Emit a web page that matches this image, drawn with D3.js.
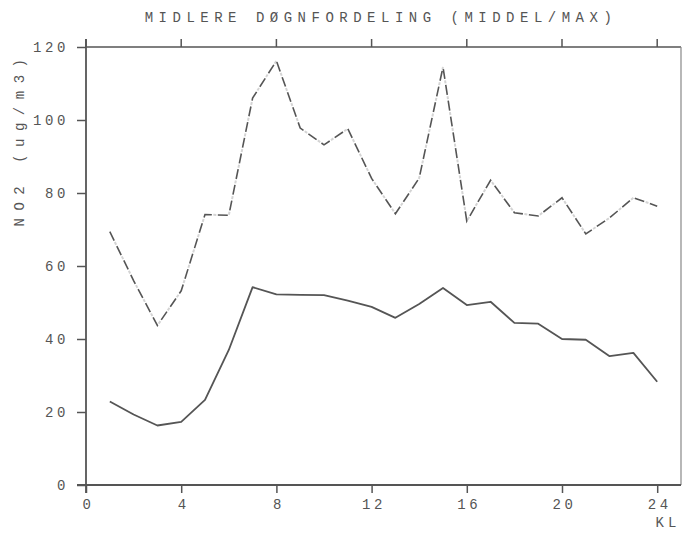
<!DOCTYPE html>
<html>
<head>
<meta charset="utf-8">
<script src="https://cdn.jsdelivr.net/npm/d3@7"></script>
<style>
  body { margin: 0; background: #fff; }
  svg { display: block; }
  text { font-family: "Liberation Mono", "DejaVu Sans Mono", monospace; fill: #555; }
</style>
</head>
<body>
<svg id="chart" width="686" height="533"></svg>
<script>
// Hour of day (KL) 1..24
const hours = [1,2,3,4,5,6,7,8,9,10,11,12,13,14,15,16,17,18,19,20,21,22,23,24];
// Mean NO2 per hour (ug/m3)
const middel = [22.9,19.3,16.3,17.3,23.3,37,54.2,52.2,52.1,52,50.5,48.8,45.8,49.6,54,49.3,50.2,44.4,44.2,40,39.8,35.3,36.2,28.3];
// Max NO2 per hour (ug/m3)
const maks = [69.4,56,43.7,53.2,74.1,73.9,106,116.2,97.8,93.2,97.6,84,74.3,84.1,114.5,72.3,83.5,74.6,73.7,78.7,68.8,73.2,78.7,76.4];
const xTicks = [0,4,8,12,16,20,24];
const yTicks = [0,20,40,60,80,100,120];

const svg = d3.select("#chart");
const x = d3.scaleLinear().domain([0, 25]).range([86, 681]);
const y = d3.scaleLinear().domain([0, 120]).range([485, 47]);
const ink = "#555";

// Frame: top and right edges
svg.append("line").attr("x1", x(0)).attr("x2", x(25)).attr("y1", y(120)).attr("y2", y(120))
  .attr("stroke", ink).attr("stroke-width", 1.5);
svg.append("line").attr("x1", x(25)).attr("x2", x(25)).attr("y1", y(120)).attr("y2", y(0))
  .attr("stroke", "#888").attr("stroke-width", 1.2);

// Top ticks pointing up
svg.selectAll(".ttick").data(xTicks).join("line")
  .attr("x1", d => x(d)).attr("x2", d => x(d))
  .attr("y1", y(120)).attr("y2", y(120) - 8)
  .attr("stroke", ink).attr("stroke-width", 1.5);

// Bottom axis
const xAxis = d3.axisBottom(x).tickValues(xTicks).tickSize(8).tickPadding(6).tickSizeOuter(0);
const gx = svg.append("g").attr("transform", `translate(0,${y(0)})`).call(xAxis);
gx.select(".domain").attr("d", `M${x(0) - 9},0H${x(25)}`).attr("stroke", ink).attr("stroke-width", 1.8);
gx.selectAll(".tick line").attr("stroke", ink).attr("stroke-width", 1.5);
gx.selectAll(".tick text").attr("font-size", 14).attr("letter-spacing", 3.6)
  .attr("font-family", "Liberation Mono, monospace").attr("fill", ink).attr("dx", 2);

// Left axis
const yAxis = d3.axisLeft(y).tickValues(yTicks).tickSize(9).tickPadding(8).tickSizeOuter(0);
const gy = svg.append("g").attr("transform", `translate(${x(0)},0)`).call(yAxis);
gy.select(".domain").attr("d", `M0,${y(0) + 8}V${y(120) - 8}`).attr("stroke", ink).attr("stroke-width", 1.8);
gy.selectAll(".tick line").attr("stroke", ink).attr("stroke-width", 1.5);
gy.selectAll(".tick text").attr("font-size", 14).attr("letter-spacing", 3.6)
  .attr("font-family", "Liberation Mono, monospace").attr("fill", ink);

// Series lines
const line = d3.line().x((d, i) => x(hours[i])).y(d => y(d));

// Max: dark dashes with faint dots in the gaps
svg.append("path").attr("d", line(maks)).attr("fill", "none")
  .attr("stroke", "#d4d4d4").attr("stroke-width", 2)
  .attr("stroke-dasharray", "3,13").attr("stroke-dashoffset", 4.5);
svg.append("path").attr("d", line(maks)).attr("fill", "none")
  .attr("stroke", ink).attr("stroke-width", 1.6)
  .attr("stroke-dasharray", "10,6");

// Mean: solid line
svg.append("path").attr("d", line(middel)).attr("fill", "none")
  .attr("stroke", ink).attr("stroke-width", 1.8).attr("stroke-linejoin", "round");

// Title
svg.append("text").attr("x", 381).attr("y", 22).attr("text-anchor", "middle")
  .attr("font-size", 14).attr("letter-spacing", 5.5)
  .text("MIDLERE DØGNFORDELING (MIDDEL/MAX)");

// Axis titles
svg.append("text").attr("transform", "translate(24,139) rotate(-90)")
  .attr("text-anchor", "middle").attr("font-size", 14).attr("letter-spacing", 7.5)
  .text("NO2 (ug/m3)");
svg.append("text").attr("x", 668).attr("y", 527).attr("text-anchor", "middle")
  .attr("font-size", 14).attr("letter-spacing", 4)
  .text("KL");
</script>
</body>
</html>
